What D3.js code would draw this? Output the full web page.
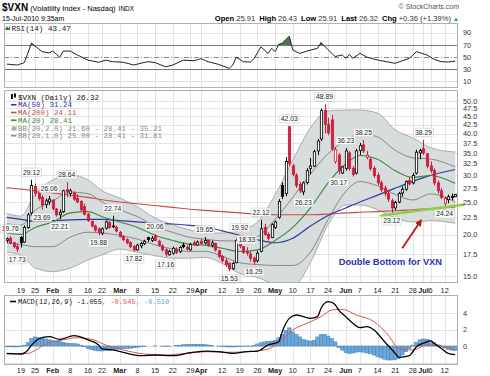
<!DOCTYPE html>
<html><head><meta charset="utf-8">
<script src="https://d3js.org/d3.v7.min.js"></script>
<style>html,body{margin:0;padding:0;background:#fff;}svg{display:block;}</style>
</head><body>
<svg id="chart" width="490" height="376"></svg>
<script>
// ---------------- DATA ----------------
const dates = ["01-12","01-13","01-14","01-15","01-19","01-20","01-21","01-22","01-25","01-26","01-27","01-28","01-29",
"02-01","02-02","02-03","02-04","02-05","02-08","02-09","02-10","02-11","02-12","02-16","02-17","02-18","02-19","02-22","02-23","02-24","02-25","02-26",
"03-01","03-02","03-03","03-04","03-05","03-08","03-09","03-10","03-11","03-12","03-15","03-16","03-17","03-18","03-19","03-22","03-23","03-24","03-25","03-26","03-29","03-30","03-31",
"04-01","04-05","04-06","04-07","04-08","04-09","04-12","04-13","04-14","04-15","04-16","04-19","04-20","04-21","04-22","04-23","04-26","04-27","04-28","04-29","04-30",
"05-03","05-04","05-05","05-06","05-07","05-10","05-11","05-12","05-13","05-14","05-17","05-18","05-19","05-20","05-21","05-24","05-25","05-26","05-27","05-28",
"06-01","06-02","06-03","06-04","06-07","06-08","06-09","06-10","06-11","06-14","06-15","06-16","06-17","06-18","06-21","06-22","06-23","06-24","06-25","06-28","06-29","06-30",
"07-01","07-02","07-06","07-07","07-08","07-09","07-12","07-13","07-14","07-15"];

const open = [19.2,19.5,18.9,18.4,19.6,19.0,21.0,23.2,27.8,26.7,25.8,24.6,25.0,
25.3,23.8,22.9,23.4,27.2,26.5,26.6,25.6,25.1,24.2,23.0,21.9,21.2,20.8,20.2,20.9,21.7,21.2,21.0,
20.3,19.7,19.3,18.9,18.4,18.0,18.5,18.8,19.6,19.2,19.8,19.1,18.5,18.0,17.4,17.6,18.1,17.8,18.6,18.3,18.0,18.9,18.6,
19.1,18.9,19.2,18.6,18.8,17.9,17.2,16.7,16.4,15.8,16.5,19.4,18.4,17.8,17.5,17.0,16.7,17.8,21.0,20.0,19.6,
21.0,22.5,28.0,26.5,41.9,32.0,30.0,28.2,26.8,28.6,31.5,32.0,35.5,38.5,46.9,42.5,43.9,33.0,34.5,30.5,
31.5,35.0,31.5,30.5,35.6,37.0,34.0,33.5,31.5,30.0,28.5,27.5,26.5,25.2,24.0,25.0,26.6,27.3,29.0,28.5,30.5,35.0,
36.0,34.8,32.0,31.0,28.5,27.0,24.8,25.4,25.8,25.91];
const high = [19.6,19.76,19.0,18.8,19.8,21.3,23.2,29.12,28.4,27.5,26.2,25.6,26.06,
25.5,24.0,23.8,27.2,28.64,27.4,26.9,26.4,25.3,24.7,23.2,22.0,21.4,21.0,21.0,22.0,21.9,22.74,21.3,
20.5,19.9,19.5,19.1,18.6,18.8,19.0,19.3,19.7,19.8,20.06,19.3,18.7,18.2,18.0,18.4,18.3,18.5,18.9,18.6,18.9,19.2,19.2,
19.4,19.65,19.3,19.2,18.9,18.0,17.4,17.0,16.5,16.6,19.5,19.92,18.5,18.33,17.8,17.2,17.9,22.12,21.5,20.3,21.6,
22.0,25.5,28.6,34.0,42.03,32.5,30.5,28.7,28.8,31.5,33.8,35.8,38.5,47.5,48.89,44.6,45.5,36.5,35.0,32.0,
36.23,35.4,32.0,36.0,37.5,38.25,35.5,34.0,32.0,30.6,29.0,28.0,27.0,25.6,25.2,26.8,27.8,29.0,29.6,30.5,35.8,36.0,
38.29,35.0,33.0,31.5,29.0,27.5,26.0,26.3,26.5,26.43];
const low = [18.9,18.7,18.2,17.73,18.3,18.9,20.8,22.8,26.0,25.2,23.69,24.0,24.5,
23.6,22.6,22.21,23.2,25.8,25.9,25.2,24.8,23.5,22.8,21.8,21.0,20.4,19.88,19.9,20.7,20.8,20.9,20.3,
19.6,19.1,18.7,18.2,17.82,17.9,18.2,18.6,19.0,19.0,19.1,18.4,17.8,17.16,17.3,17.4,17.5,17.6,18.2,17.9,17.9,18.5,18.5,
18.6,18.7,18.4,18.3,17.8,17.0,16.5,16.0,15.53,15.7,16.4,18.2,17.5,17.3,16.6,16.29,16.5,17.7,19.8,19.2,19.5,
20.8,22.3,25.5,26.0,32.0,29.8,27.5,26.6,26.23,28.2,30.2,31.8,34.5,38.0,40.0,39.5,35.5,32.5,30.17,30.3,
31.0,31.0,29.8,30.2,34.5,35.0,33.5,31.0,29.5,28.0,26.8,26.0,25.0,23.12,23.6,24.8,26.0,27.0,28.0,28.2,30.2,33.5,
34.5,31.5,30.5,28.0,26.5,25.5,24.24,24.8,25.3,25.91];
const close = [19.4,18.9,18.4,18.1,18.9,21.0,22.9,28.0,26.5,25.6,24.5,25.2,25.5,
23.9,22.9,23.3,27.0,26.8,27.0,25.5,25.0,23.7,23.0,22.0,21.2,20.6,20.3,20.8,21.8,21.0,21.1,20.5,
19.7,19.3,18.9,18.4,18.0,18.6,18.8,19.1,19.3,19.5,19.2,18.6,18.0,17.5,17.8,18.2,17.7,18.3,18.4,18.1,18.7,18.6,19.0,
18.8,19.2,18.6,18.9,18.0,17.2,16.7,16.3,15.8,16.4,19.2,18.5,17.7,17.6,17.0,16.6,17.6,20.8,20.0,19.5,21.4,
21.8,25.1,26.0,33.0,32.6,30.2,28.0,27.0,28.5,31.0,32.0,35.3,38.0,46.8,42.6,40.2,36.0,35.8,31.0,31.8,
35.5,31.5,30.2,35.5,36.8,35.5,34.5,31.5,30.0,28.5,27.2,26.5,25.5,24.0,24.9,26.5,27.3,28.8,28.3,30.0,35.2,35.6,
35.0,32.0,31.0,28.5,27.0,25.8,25.6,25.9,25.96,26.32];

// overlays read at weekly points
const bandDates = ["01-12","01-19","01-25","02-01","02-08","02-16","02-22","03-01","03-08","03-15","03-22","03-29","04-05","04-12","04-19","04-26","05-03","05-10","05-17","05-24","06-01","06-07","06-14","06-21","06-28","07-06","07-15"];
const bbUpper = [23.1,22.7,26.3,29.1,30.1,29.1,27.0,25.7,24.2,22.4,21.4,20.6,20.2,20.2,20.6,21.8,26.3,33.3,41.6,46.7,47.0,47.0,46.0,41.0,38.8,36.3,35.21];
const bbLower = [17.7,17.4,15.9,15.5,15.9,16.8,17.4,18.1,17.7,17.3,17.0,17.0,17.1,16.4,15.3,14.9,14.2,14.0,16.5,21.4,24.5,24.5,23.7,22.4,21.8,22.0,21.60];
const ma20 = [20.2,20.0,21.0,21.8,23.2,23.4,22.6,21.8,21.0,19.9,19.2,18.7,18.6,18.2,17.8,18.0,19.2,21.0,24.0,28.5,32.5,34.4,33.5,31.0,29.6,30.0,28.41];
const ma50 = [22.5,22.2,21.9,22.0,22.1,22.2,22.2,22.0,21.8,21.6,21.5,21.3,21.1,20.5,19.9,19.3,18.9,19.5,21.2,22.8,24.0,25.0,26.2,27.5,28.8,30.0,31.24];
const ma200 = [27.6,27.3,27.0,26.6,26.2,25.8,25.4,25.0,24.7,24.4,24.1,23.8,23.6,23.4,23.2,23.0,22.9,22.9,22.9,23.0,23.2,23.3,23.4,23.55,23.7,23.9,24.11];

// swing high / low labels
const hlDates = ["01-13","01-15","01-22","01-27","01-29","02-03","02-05","02-19","02-25","03-05","03-15","03-18","04-05","04-14","04-19","04-21","04-23","04-27","05-07","05-13","05-21","05-27","06-01","06-08","06-18","07-01","07-12"];
const hlValues = [19.76,17.73,29.12,23.69,26.06,22.21,28.64,19.88,22.74,17.82,20.06,17.16,19.65,15.53,19.92,18.33,16.29,22.12,42.03,26.23,48.89,30.17,36.23,38.25,23.12,38.29,24.24];
const hlType = ["H","L","H","L","H","L","H","L","H","L","H","L","H","L","H","H","L","H","H","L","H","L","H","H","L","H","L"];

// RSI(14)
const rsiDates = ["01-12","01-15","01-20","01-22","01-27","01-29","02-01","02-03","02-04","02-08","02-10","02-16","02-19","02-23","02-25","03-02","03-05","03-09","03-11","03-15","03-18","03-22","03-25","03-30","04-01","04-06","04-09","04-14","04-15","04-16","04-20","04-22","04-23","04-27","04-29","04-30","05-03","05-04","05-05","05-07","05-10","05-12","05-14","05-19","05-20","05-24","05-26","05-28","06-01","06-02","06-03","06-07","06-09","06-14","06-17","06-21","06-23","06-25","06-29","06-30","07-02","07-07","07-09","07-13","07-15"];
const rsiValues = [38.5,37,41,73,59,57,60,50,60,60,53.5,45,41.5,45,42.5,41.5,37,40,42.5,41,34,37,45,44,47.5,42.5,38,31.5,37,50,42.5,42,47.5,67,56,64.5,59,71,72.8,84.5,61.7,56,60,64.5,74,62,51,53.5,48,54.6,48,56.3,50,45.3,42,39.8,44,48,59,57.3,53.5,46.4,42.5,42,43.47];

// MACD(12,26,9)
const macdDates = ["01-12","01-19","01-21","01-22","01-25","01-26","01-29","02-03","02-09","02-16","02-19","02-22","02-25","03-02","03-09","03-15","03-22","03-29","04-06","04-09","04-15","04-21","04-26","04-29","05-04","05-05","05-07","05-11","05-13","05-17","05-19","05-20","05-24","05-25","05-26","05-27","06-01","06-03","06-07","06-09","06-11","06-16","06-21","06-22","06-25","06-29","07-02","07-06","07-07","07-09","07-13","07-15"];
const macdValues = [-0.89,-0.97,-0.48,0.1,0.52,0.85,1.13,0.81,1.25,0.73,0.12,-0.36,-0.48,-0.77,-1.17,-1.09,-1.17,-0.81,-0.61,-0.69,-0.89,-0.69,-0.61,0.12,0.52,1.74,3.35,3.76,3.56,3.35,3.56,4.57,5.37,5.3,5.0,4.36,3.56,2.75,2.22,2.34,1.94,0.52,-0.89,-1.37,-1.17,-0.08,0.5,0.65,0.32,-0.28,-0.89,-1.055];
const signalDates = ["01-12","01-21","01-25","01-27","02-01","02-04","02-10","02-17","02-23","03-02","03-10","03-18","03-26","04-06","04-13","04-21","04-28","05-04","05-10","05-14","05-20","05-25","05-28","06-04","06-11","06-17","06-22","06-28","07-02","07-09","07-15"];
const signalValues = [-0.97,-0.9,-0.55,0.0,0.5,0.75,1.0,0.82,0.12,-0.48,-0.97,-1.09,-0.89,-0.69,-0.77,-0.69,-0.48,0.32,1.94,2.75,3.56,4.36,4.44,3.76,2.95,1.33,-0.28,-0.48,0.12,0.0,-0.545];
const histValues = [-0.1,-0.1,-0.12,-0.12,-0.08,0.1,0.4,
0.9,1.1,1.05,0.95,
0.85,0.75,0.65,0.6,0.55,
0.45,0.35,0.3,0.28,0.25,
0.1,-0.1,-0.3,-0.45,
-0.55,-0.6,-0.6,-0.55,-0.5,
-0.45,-0.4,-0.35,-0.3,-0.3,-0.28,-0.22,-0.15,
-0.1,-0.05,0,0,0.02,0,-0.02,-0.05,-0.03,0,0.05,0.1,
0.15,0.18,0.2,0.2,0.22,0.2,0.18,0.12,0.05,
0,-0.05,-0.08,-0.1,-0.12,-0.12,-0.1,-0.08,-0.05,-0.05,-0.02,0.05,
0.25,0.4,0.5,0.55,0.6,0.7,
1.0,1.4,1.9,2.2,
1.7,1.4,1.1,0.8,
0.65,0.6,0.7,
1.1,1.4,1.4,1.2,
0.9,0.5,
-0.2,-0.5,-0.8,-0.9,-0.85,
-0.75,-0.7,-0.75,-0.85,-0.95,-1.1,
-1.3,-1.45,-1.6,-1.7,-1.7,-1.65,-1.5,
-1.1,-0.7,-0.3,0.1,
0.45,0.75,0.85,0.8,
0.6,0.4,0.15,-0.1,-0.25,-0.4,-0.5,-0.51];

// axis ticks
const tickDates = ["01-19","01-25","02-01","02-08","02-16","02-22","03-01","03-08","03-15","03-22","03-29","04-01","04-12","04-19","04-26","05-03","05-10","05-17","05-24","06-01","06-07","06-14","06-21","06-28","07-01","07-06","07-12"];
const tickLabels = ["19","25","Feb","8","16","22","Mar","8","15","22","29","Apr","12","19","26","May","10","17","24","Jun","7","14","21","28","Jul","6","12"];
const priceTicks = [15,17.5,20,22.5,25,27.5,30,32.5,35,37.5,40,42.5,45,47.5,50];
const rsiTicks = [10,30,50,70,90];
const macdTicks = [0,2,4];

// annotation (double bottom)
const trendDates = ["06-15","07-15"], trendPrices = [22.8, 24.35];
const arrowDates = ["06-23","06-30"], arrowPrices = [18.2, 21.8];

// ---------------- DRAW ----------------
const svg = d3.select("#chart");
const SANS = "'Liberation Sans', Arial, Helvetica, sans-serif";
const MONO = "'Liberation Mono','DejaVu Sans Mono',monospace";
const pL = 4, pR = 458;
const rsiT = 23, rsiB = 88, mT = 90, mB = 283, dT = 295, dB = 365;
const GRID = "#e2e2e2", BORDER = "#b0b0b0";
const RED = "#cc1f3f";

const x = d3.scaleBand().domain(dates).range([5, 457]);
const cx = d => x(d) + x.bandwidth() / 2;
const bw = x.bandwidth() * 0.66;
const yR = d3.scaleLinear().domain([0, 100]).range([87.5, 26.75]);
const yP = d3.scaleLog().domain([14.34, 53.92]).range([mB, mT]);
const yM = d3.scaleLinear().domain([-2.303, 6.182]).range([dB, dT]);

const defs = svg.append("defs");
function clip(id, t, b) {
  defs.append("clipPath").attr("id", id).append("rect")
    .attr("x", pL).attr("y", t).attr("width", pR - pL).attr("height", b - t);
}
clip("cR", rsiT, rsiB); clip("cM", mT, mB); clip("cD", dT, dB);
defs.append("clipPath").attr("id", "cR70").append("rect").attr("x", pL).attr("y", rsiT).attr("width", pR - pL).attr("height", yR(70) - rsiT);
defs.append("clipPath").attr("id", "cR30").append("rect").attr("x", pL).attr("y", yR(30)).attr("width", pR - pL).attr("height", rsiB - yR(30));

function panelBase(t, b) {
  svg.append("rect").attr("x", pL + 0.5).attr("y", t + 0.5).attr("width", pR - pL - 1).attr("height", b - t - 1)
    .attr("fill", "#fff");
  const g = svg.append("g");
  g.selectAll("line").data(tickDates).join("line")
    .attr("x1", d => Math.round(cx(d)) + 0.5).attr("x2", d => Math.round(cx(d)) + 0.5)
    .attr("y1", t).attr("y2", b).attr("stroke", GRID).attr("stroke-width", 1);
}
function panelBorder(t, b) {
  svg.append("rect").attr("x", pL + 0.5).attr("y", t + 0.5).attr("width", pR - pL - 1).attr("height", b - t - 1)
    .attr("fill", "none").attr("stroke", BORDER).attr("stroke-width", 1);
}
function hline(g, y, color, dash) {
  g.append("line").attr("x1", pL).attr("x2", pR).attr("y1", Math.round(y) + 0.5).attr("y2", Math.round(y) + 0.5)
    .attr("stroke", color).attr("stroke-width", 1).attr("stroke-dasharray", dash || null);
}

// ---------- header ----------
const h1 = svg.append("text").attr("x", 2).attr("y", 10.5).attr("font-family", SANS).attr("fill", "#000");
h1.append("tspan").attr("font-size", 10).attr("font-weight", "bold").text("$VXN");
h1.append("tspan").attr("font-size", 7.5).attr("dx", 2).text("(Volatility Index - Nasdaq)");
h1.append("tspan").attr("font-size", 6.5).attr("dx", 3).text("INDX");
svg.append("text").attr("x", 2).attr("y", 20.5).attr("font-family", SANS).attr("font-size", 7).text("15-Jul-2010 9:35am");
svg.append("text").attr("x", 459).attr("y", 9).attr("text-anchor", "end").attr("font-family", SANS)
  .attr("font-size", 7).attr("fill", "#555").text("© StockCharts.com");
const last = close.length - 1;
const chg = close[last] - close[last - 1];
const h2 = svg.append("text").attr("x", 459).attr("y", 20.5).attr("text-anchor", "end")
  .attr("font-family", SANS).attr("font-size", 7.6).attr("fill", "#333");
[["Open", open[last]], ["High", high[last]], ["Low", low[last]], ["Last", close[last]]].forEach(([k, v], i) => {
  h2.append("tspan").attr("font-weight", "bold").attr("fill", "#000").attr("dx", i ? 4 : 0).text(k);
  h2.append("tspan").attr("dx", 2).text(v.toFixed(2));
});
h2.append("tspan").attr("font-weight", "bold").attr("fill", "#000").attr("dx", 4).text("Chg");
h2.append("tspan").attr("dx", 2).text("+" + chg.toFixed(2) + " (+" + (chg / close[last - 1] * 100).toFixed(2) + "%)");
h2.append("tspan").attr("dx", 2).attr("fill", "#2a9a2a").attr("font-size", 6).text("▲");

// ---------- RSI panel ----------
panelBase(rsiT, rsiB);
const gR = svg.append("g");
hline(gR, yR(90), GRID); hline(gR, yR(10), GRID);
hline(gR, yR(70), "#777"); hline(gR, yR(30), "#777");
hline(gR, yR(50), "#888", "5,2,1,2");
const rsiData = rsiDates.map((d, i) => ({ d, v: rsiValues[i] }));
const rsiArea = d3.area().x(p => cx(p.d)).y1(p => yR(p.v));
svg.append("path").datum(rsiData).attr("clip-path", "url(#cR70)")
  .attr("d", rsiArea.y0(yR(70))).attr("fill", "#4d7a4d");
svg.append("path").datum(rsiData).attr("clip-path", "url(#cR30)")
  .attr("d", d3.area().x(p => cx(p.d)).y1(p => yR(p.v)).y0(yR(30))).attr("fill", "#4d7a4d");
svg.append("path").datum(rsiData).attr("clip-path", "url(#cR)")
  .attr("d", d3.line().x(p => cx(p.d)).y(p => yR(p.v))).attr("fill", "none").attr("stroke", "#222").attr("stroke-width", 1);
panelBorder(rsiT, rsiB);
svg.append("g").selectAll("text").data(rsiTicks).join("text")
  .attr("x", 463).attr("y", d => yR(d) + 2.6).attr("font-family", SANS).attr("font-size", 7.3).attr("fill", "#333").text(d => d);
// RSI legend
svg.append("path").attr("d", "M5,30 L7,26 L8.5,28.5 L10,25.5 L10,30 Z").attr("fill", "#3d6e3d");
svg.append("text").attr("x", 11.5).attr("y", 30.5).attr("font-family", MONO).attr("font-size", 7.6).attr("fill", "#222")
  .text("RSI(14) " + rsiValues[rsiValues.length - 1].toFixed(2));

// ---------- MAIN panel ----------
panelBase(mT, mB);
const gM = svg.append("g");
priceTicks.forEach(t => hline(gM, yP(t), GRID));
const gPlot = svg.append("g").attr("clip-path", "url(#cM)");
const band = bandDates.map((d, i) => ({ d, u: bbUpper[i], l: bbLower[i], m: ma20[i], m50: ma50[i], m200: ma200[i] }));
const curve = d3.curveMonotoneX;
gPlot.append("path").datum(band)
  .attr("d", d3.area().curve(curve).x(p => cx(p.d)).y0(p => yP(p.l)).y1(p => yP(p.u)))
  .attr("fill", "#d7dcdc").attr("stroke", "none");
const ln = f => d3.line().curve(curve).x(p => cx(p.d)).y(p => yP(f(p)));
[[p => p.u, "#9a9a9a", 0.8], [p => p.l, "#9a9a9a", 0.8],
 [p => p.m + (p.u - p.l) / 4, "#7d7d7d", 0.9], [p => p.m - (p.u - p.l) / 4, "#7d7d7d", 0.9]].forEach(([f, c, w]) =>
  gPlot.append("path").datum(band).attr("d", ln(f)).attr("fill", "none").attr("stroke", c).attr("stroke-width", w));
gPlot.append("path").datum(band).attr("d", ln(p => p.m200)).attr("fill", "none").attr("stroke", "#c94a4a").attr("stroke-width", 1.1);
gPlot.append("path").datum(band).attr("d", ln(p => p.m50)).attr("fill", "none").attr("stroke", "#2f3a99").attr("stroke-width", 1.2);
gPlot.append("path").datum(band).attr("d", ln(p => p.m)).attr("fill", "none").attr("stroke", "#3c8a3c").attr("stroke-width", 1.1);

// candles
const candles = dates.map((d, i) => ({
  d, o: open[i], h: high[i], l: low[i], c: close[i],
  col: close[i] < (i ? close[i - 1] : open[i]) ? RED : "#000",
  filled: close[i] < open[i]
}));
const gC = gPlot.append("g");
gC.selectAll("line").data(candles).join("line")
  .attr("x1", p => Math.round(cx(p.d)) + 0.5).attr("x2", p => Math.round(cx(p.d)) + 0.5)
  .attr("y1", p => yP(p.h)).attr("y2", p => yP(p.l)).attr("stroke", p => p.col).attr("stroke-width", 1);
gC.selectAll("rect").data(candles).join("rect")
  .attr("x", p => Math.round(cx(p.d)) + 0.5 - bw / 2).attr("width", bw)
  .attr("y", p => yP(Math.max(p.o, p.c))).attr("height", p => Math.max(0.8, yP(Math.min(p.o, p.c)) - yP(Math.max(p.o, p.c))))
  .attr("fill", (p, i) => i === candles.length - 1 ? "#f5f06a" : (p.filled ? p.col : "#fff"))
  .attr("stroke", p => p.col).attr("stroke-width", 0.8);

// swing labels
const gL = svg.append("g");
hlDates.forEach((d, i) => {
  const v = hlValues[i];
  const yy = yP(v) + (hlType[i] === "H" ? -7.5 : 7.5);
  const t = gL.append("text").attr("x", cx(d)).attr("y", yy + 2.4).attr("text-anchor", "middle")
    .attr("font-family", SANS).attr("font-size", 6.8).attr("fill", "#222").text(v.toFixed(2));
  const w = t.node().getComputedTextLength() + 3;
  gL.insert("rect", "text").attr("x", cx(d) - w / 2).attr("y", yy - 4.2).attr("width", w).attr("height", 8.4)
    .attr("rx", 1.5).attr("fill", "#fff").attr("fill-opacity", 0.9).attr("stroke", "#c8c8c8").attr("stroke-width", 0.6);
});

// double bottom annotation
const tx0 = cx(trendDates[0]), ty0 = yP(trendPrices[0]), tx1 = cx(trendDates[1]), ty1 = yP(trendPrices[1]);
const slope = (ty1 - ty0) / (tx1 - tx0);
svg.append("line").attr("x1", tx0).attr("y1", ty0).attr("x2", tx1 + 8).attr("y2", ty1 + slope * 8)
  .attr("stroke", "#8ccf4a").attr("stroke-width", 2.6).attr("stroke-linecap", "round");
defs.append("marker").attr("id", "ah").attr("viewBox", "0 0 10 10").attr("refX", 5).attr("refY", 5)
  .attr("markerWidth", 4).attr("markerHeight", 4).attr("orient", "auto")
  .append("path").attr("d", "M0,0 L10,5 L0,10 Z").attr("fill", "#c01818");
svg.append("line").attr("x1", cx(arrowDates[0])).attr("y1", yP(arrowPrices[0]))
  .attr("x2", cx(arrowDates[1])).attr("y2", yP(arrowPrices[1]))
  .attr("stroke", "#c01818").attr("stroke-width", 1.8).attr("marker-end", "url(#ah)");
svg.append("text").attr("x", cx("05-27")).attr("y", yP(16.25)).attr("font-family", SANS).attr("font-size", 9.3)
  .attr("font-weight", "bold").attr("fill", "#2836b0").text("Double Bottom for VXN");

panelBorder(mT, mB);
svg.append("g").selectAll("text").data(priceTicks).join("text")
  .attr("x", 463).attr("y", d => yP(d) + 2.6).attr("font-family", SANS).attr("font-size", 7.3).attr("fill", "#333")
  .text(d => d.toFixed(1));

// main legend
const lg = [
  { t: "$VXN (Daily) " + close[last].toFixed(2), c: "#111", icon: "candle" },
  { t: "MA(50) " + ma50[ma50.length - 1].toFixed(2), c: "#2f3a99", icon: "line" },
  { t: "MA(200) " + ma200[ma200.length - 1].toFixed(2), c: "#c94a4a", icon: "line" },
  { t: "MA(20) " + ma20[ma20.length - 1].toFixed(2), c: "#3c8a3c", icon: "line" },
  { t: "BB(20,2.0) " + bbLower[bbLower.length - 1].toFixed(2) + " - " + ma20[ma20.length - 1].toFixed(2) + " - " + bbUpper[bbUpper.length - 1].toFixed(2), c: "#8a8a8a", icon: "area" },
  { t: "BB(20,1.0) 25.00 - 28.41 - 31.81", c: "#8a8a8a", icon: "line" }
];
lg.forEach((o, i) => {
  const yb = 99.5 + i * 7.75;
  svg.append("text").attr("x", 18).attr("y", yb).attr("font-family", MONO).attr("font-size", 7.5).attr("fill", o.c).text(o.t);
  if (o.icon === "line") svg.append("line").attr("x1", 11).attr("x2", 16.5).attr("y1", yb - 2.5).attr("y2", yb - 2.5).attr("stroke", o.c).attr("stroke-width", 1.6);
  if (o.icon === "candle") {
    svg.append("rect").attr("x", 11).attr("y", yb - 5.5).attr("width", 2).attr("height", 5).attr("fill", "#111");
    svg.append("rect").attr("x", 14).attr("y", yb - 6).attr("width", 2).attr("height", 4).attr("fill", "#111");
  }
  if (o.icon === "area") svg.append("path").attr("d", `M11,${yb} L13,${yb - 5} L15,${yb - 3} L16.5,${yb - 6} L16.5,${yb} Z`).attr("fill", "#aaa");
});

// x labels (main)
function xLabels(yb) {
  svg.append("g").selectAll("text").data(tickDates).join("text")
    .attr("x", d => cx(d)).attr("y", yb).attr("text-anchor", "middle").attr("font-family", SANS)
    .attr("font-size", 7.3).attr("fill", "#222")
    .attr("font-weight", (d, i) => /[A-Za-z]/.test(tickLabels[i]) ? "bold" : "normal")
    .text((d, i) => tickLabels[i]);
}
xLabels(292.8);

// ---------- MACD panel ----------
panelBase(dT, dB);
const gD = svg.append("g");
[-2, 0, 2, 4].forEach(t => hline(gD, yM(t), GRID));
const gDp = svg.append("g").attr("clip-path", "url(#cD)");
gDp.selectAll("rect").data(dates).join("rect")
  .attr("x", d => x(d)).attr("width", x.bandwidth())
  .attr("y", (d, i) => Math.min(yM(0), yM(histValues[i])))
  .attr("height", (d, i) => Math.abs(yM(histValues[i]) - yM(0)))
  .attr("fill", "#6aa8da").attr("stroke", "#3f7db8").attr("stroke-width", 0.5);
gDp.append("path").datum(signalDates.map((d, i) => ({ d, v: signalValues[i] })))
  .attr("d", d3.line().curve(curve).x(p => cx(p.d)).y(p => yM(p.v)))
  .attr("fill", "none").attr("stroke", "#d9534f").attr("stroke-width", 1);
gDp.append("path").datum(macdDates.map((d, i) => ({ d, v: macdValues[i] })))
  .attr("d", d3.line().curve(curve).x(p => cx(p.d)).y(p => yM(p.v)))
  .attr("fill", "none").attr("stroke", "#000").attr("stroke-width", 1.3);
panelBorder(dT, dB);
svg.append("g").selectAll("text").data(macdTicks).join("text")
  .attr("x", 463).attr("y", d => yM(d) + 2.6).attr("font-family", SANS).attr("font-size", 7.3).attr("fill", "#333").text(d => d);
svg.append("line").attr("x1", 10).attr("x2", 16).attr("y1", 301.5).attr("y2", 301.5).attr("stroke", "#000").attr("stroke-width", 1.6);
const ml = svg.append("text").attr("x", 18).attr("y", 304).attr("font-family", MONO).attr("font-size", 7);
ml.append("tspan").attr("fill", "#111").text("MACD(12,26,9) " + macdValues[macdValues.length - 1].toFixed(3));
ml.append("tspan").attr("fill", "#d9534f").text(", " + signalValues[signalValues.length - 1].toFixed(3));
ml.append("tspan").attr("fill", "#5aa0d0").text(", " + histValues[histValues.length - 1].toFixed(3));
xLabels(373);
</script>
</body></html>
